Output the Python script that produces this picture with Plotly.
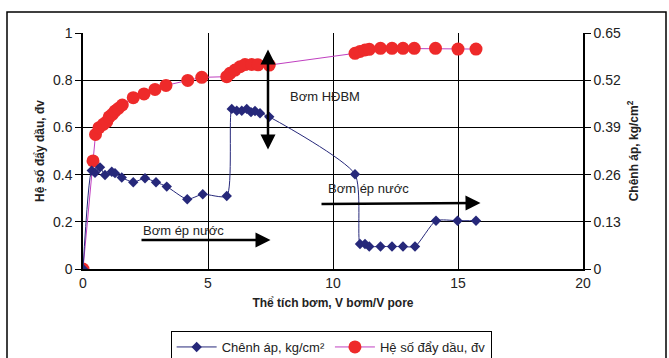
import plotly.graph_objects as go

# Oil displacement coefficient (left axis)
red_x = [0, 0.4, 0.5, 0.64, 0.81, 0.95, 1.05, 1.17, 1.28, 1.41, 1.57, 2.01, 2.44, 2.88, 3.32,
         4.19, 4.75, 5.75, 5.88, 6.08, 6.28, 6.48, 6.75, 7.0, 7.45,
         10.88, 11.08, 11.28, 11.45, 11.9, 12.36, 12.8, 13.25, 14.1, 15.0, 15.72]
red_y = [0, 0.458, 0.570, 0.599, 0.613, 0.624, 0.645, 0.655, 0.669, 0.680, 0.695, 0.726, 0.742, 0.761, 0.778,
         0.799, 0.812, 0.815, 0.829, 0.843, 0.857, 0.866, 0.867, 0.865, 0.864,
         0.914, 0.922, 0.928, 0.931, 0.935, 0.935, 0.935, 0.935, 0.935, 0.932, 0.932]

# Pressure difference (right axis, kg/cm2)
blue_x = [0, 0.35, 0.48, 0.68, 0.88, 1.15, 1.28, 1.55, 2.01, 2.48, 2.92, 3.35, 4.17, 4.79, 5.75,
          5.95, 6.15, 6.35, 6.55, 6.72, 6.88, 7.08, 7.45,
          10.88, 11.08, 11.28, 11.45, 11.9, 12.36, 12.8, 13.28, 14.12, 14.98, 15.72]
blue_y = [0, 0.271, 0.265, 0.280, 0.259, 0.268, 0.264, 0.252, 0.239, 0.250, 0.239, 0.227, 0.192, 0.206, 0.201,
          0.441, 0.436, 0.436, 0.441, 0.432, 0.435, 0.429, 0.419,
          0.261, 0.069, 0.069, 0.062, 0.062, 0.062, 0.062, 0.062, 0.133, 0.133, 0.133]

left_ticks = [0, 0.2, 0.4, 0.6, 0.8, 1]
right_ticks = [0, 0.13, 0.26, 0.39, 0.52, 0.65]
x_ticks = [0, 5, 10, 15, 20]

FONT = "Liberation Sans, Arial, sans-serif"

fig = go.Figure()
fig.add_trace(go.Scatter(
    x=blue_x, y=blue_y, yaxis="y2", name="Chênh áp, kg/cm²",
    mode="lines+markers", line=dict(color="#26287a", width=1, shape="spline", smoothing=0.6),
    marker=dict(symbol="diamond", size=8, color="#26287a"),
))
fig.add_trace(go.Scatter(
    x=red_x, y=red_y, name="Hệ số đẩy dầu, đv",
    mode="lines+markers", line=dict(color="#c040c0", width=1),
    marker=dict(symbol="circle", size=13, color="#ee2a2a"),
))

arrow = dict(showarrow=True, arrowcolor="black", arrowwidth=2.5, arrowhead=2, arrowsize=1.2,
             xref="x", yref="y", axref="x", ayref="y", text="")
fig.add_annotation(x=7.4, y=0.93, ax=7.4, ay=0.50, arrowside="end+start", **arrow)
fig.add_annotation(x=7.5, y=0.123, ax=2.28, ay=0.123, **arrow)
fig.add_annotation(x=15.9, y=0.28, ax=9.48, ay=0.275, **arrow)

txt = dict(showarrow=False, xref="x", yref="y", font=dict(family=FONT, size=13, color="#222"), xanchor="left")
fig.add_annotation(x=8.2, y=0.73, text="Bơm HĐBM", **txt)
fig.add_annotation(x=2.3, y=0.165, text="Bơm ép nước", **txt)
fig.add_annotation(x=9.7, y=0.343, text="Bơm ép nước", **txt)

# outer frame
fig.add_shape(type="rect", xref="paper", yref="paper", x0=-0.152, x1=1.166, y0=-0.6, y1=1.089,
              line=dict(color="black", width=1.5), layer="below")

fig.update_layout(
    width=669, height=358,
    margin=dict(l=83, r=86, t=33, b=89),
    paper_bgcolor="white", plot_bgcolor="white",
    font=dict(family=FONT, size=14, color="#222"),
    showlegend=True,
    legend=dict(orientation="h", x=0.495, xanchor="center", xref="container",
                y=(358 - 331) / 358, yanchor="top", yref="container",
                bordercolor="black", borderwidth=1, font=dict(size=13),
                itemwidth=40, tracegroupgap=0),
    xaxis=dict(range=[0, 20], tickvals=x_ticks, showgrid=True, gridcolor="black", gridwidth=1,
               showline=True, linecolor="black", linewidth=1.5, zeroline=False,
               ticks="", automargin=False,
               title=dict(text="<b>Thể tích bơm, V bơm/V pore</b>", font=dict(size=12), standoff=9)),
    yaxis=dict(range=[0, 1], tickvals=left_ticks, showgrid=True, gridcolor="black", gridwidth=1,
               showline=True, linecolor="black", linewidth=1.5, zeroline=False,
               ticks="outside", ticklen=6, tickcolor="black", automargin=False,
               title=dict(text="<b>Hệ số đẩy dầu, đv</b>", font=dict(size=12), standoff=6)),
    yaxis2=dict(range=[0, 0.65], tickvals=right_ticks, ticktext=["0", "0.13", "0.26", "0.39", "0.52", "0.65"],
                overlaying="y", side="right", showgrid=False, zeroline=False,
                showline=True, linecolor="black", linewidth=1.5,
                ticks="outside", ticklen=6, tickcolor="black", automargin=False,
                title=dict(text="<b>Chênh áp, kg/cm<sup>2</sup></b>", font=dict(size=12), standoff=10)),
)

fig.write_html("out.html")
